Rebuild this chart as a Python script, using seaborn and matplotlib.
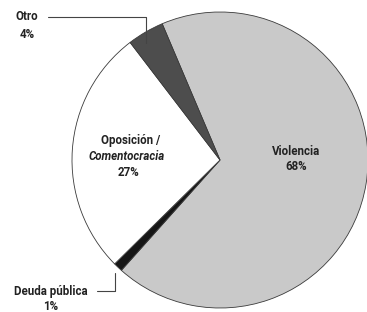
import matplotlib.pyplot as plt
import seaborn as sns
from matplotlib.lines import Line2D

# Datos
categorias = ['Violencia', 'Deuda pública', 'Oposición / Comentocracia', 'Otro']
porcentajes = [68, 1, 27, 4]
colores = ['#c9c9c9', '#161616', '#ffffff', '#4d4d4d']

W, H = 367, 312
CX, CY, R = 220, 160, 148  # centro y radio en pixeles

sns.set_theme(style='white')
plt.rcParams['font.family'] = ['Roboto', 'DejaVu Sans']

fig = plt.figure(figsize=(W / 100, H / 100), dpi=100)
ax = fig.add_axes([0, 0, 1, 1])
ax.pie(
    porcentajes,
    colors=colores,
    startangle=113,
    counterclock=False,
    radius=1,
    wedgeprops=dict(edgecolor='#3a3a3a', linewidth=0.6),
)
ax.set_xlim(-CX / R, (W - CX) / R)
ax.set_ylim(-(H - CY) / R, CY / R)
ax.set_aspect('auto')
ax.axis('off')


def fx(x):
    return x / W


def fy(y):
    return 1 - y / H


txt = dict(fontsize=8.3, fontweight='bold', color='#222222', ha='center', va='center')

# Violencia
fig.text(fx(296), fy(151), categorias[0], **txt)
fig.text(fx(296), fy(167), f'{porcentajes[0]}%', **txt)

# Oposicion / Comentocracia
fig.text(fx(131), fy(141), 'Oposición /', **txt)
fig.text(fx(127), fy(156), 'Comentocracia', style='italic', **txt)
fig.text(fx(129), fy(172), f'{porcentajes[2]}%', **txt)

# Otro
fig.text(fx(27), fy(17), categorias[3], **txt)
fig.text(fx(27), fy(34), f'{porcentajes[3]}%', **txt)

# Deuda publica
fig.text(fx(51), fy(291), categorias[1], **txt)
fig.text(fx(51), fy(306), f'{porcentajes[1]}%', **txt)

# lineas guia
linea = dict(color='#444444', linewidth=0.8, transform=fig.transFigure)
fig.add_artist(Line2D([fx(48), fx(146), fx(146)], [fy(17), fy(17), fy(43)], **linea))
fig.add_artist(Line2D([fx(97), fx(115), fx(115)], [fy(291), fy(291), fy(273)], **linea))

fig.savefig('out.png', dpi=100)
